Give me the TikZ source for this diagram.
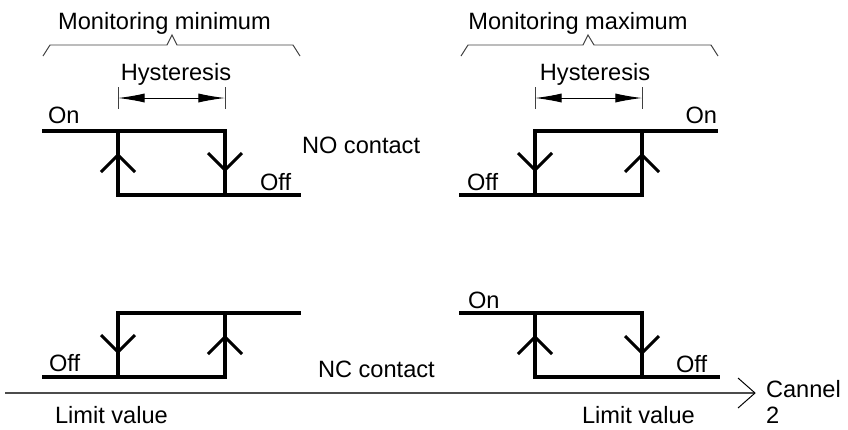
\documentclass[tikz,border=0pt]{standalone}
\usepackage{fontspec}
\setmainfont{Liberation Sans}
\usetikzlibrary{arrows.meta}
\begin{document}
\begin{tikzpicture}[x=0.25cm,y=-0.25cm,
  every node/.style={font=\fontsize{16.8}{18}\selectfont,inner sep=0pt,outer sep=0pt},
  contact/.style={line width=2.2pt,line cap=butt,line join=miter},
  thinline/.style={line width=0.7pt,black!75},
  hyst/.style={line width=0.7pt,{Latex[length=19pt,width=6.5pt]}-{Latex[length=19pt,width=6.5pt]}},
  upmark/.pic={\draw[contact,line join=miter] (-1.7,1.7)--(0,0)--(1.7,1.7);},
  downmark/.pic={\draw[contact,line join=miter] (-1.7,-1.7)--(0,0)--(1.7,-1.7);}]
  \useasboundingbox (0,0) rectangle (84.8,42.9);
  % monitoring minimum, NO contact
  \coordinate (A1) at (4.2,13.1);
  \coordinate (A2) at (11.8,13.1);
  \coordinate (A3) at (22.5,13.1);
  \coordinate (A4) at (11.8,19.5);
  \coordinate (A5) at (22.5,19.5);
  \coordinate (A6) at (30.1,19.5);
  \draw[contact] (A1)--(A3)--(A5);
  \draw[contact] (A2)--(A4)--(A6);
  \pic at (11.8,15.5) {upmark};
  \pic at (22.5,17.0) {downmark};
  % monitoring maximum, NO contact
  \coordinate (B1) at (45.9,19.5);
  \coordinate (B2) at (53.5,19.5);
  \coordinate (B3) at (64.2,19.5);
  \coordinate (B4) at (53.5,13.1);
  \coordinate (B5) at (64.2,13.1);
  \coordinate (B6) at (71.8,13.1);
  \draw[contact] (B1)--(B3)--(B5);
  \draw[contact] (B2)--(B4)--(B6);
  \pic at (53.5,17.0) {downmark};
  \pic at (64.2,15.5) {upmark};
  % monitoring minimum, NC contact
  \coordinate (C1) at (4.2,37.7);
  \coordinate (C2) at (11.8,37.7);
  \coordinate (C3) at (22.5,37.7);
  \coordinate (C4) at (11.8,31.3);
  \coordinate (C5) at (22.5,31.3);
  \coordinate (C6) at (30.1,31.3);
  \draw[contact] (C1)--(C3)--(C5);
  \draw[contact] (C2)--(C4)--(C6);
  \pic at (11.8,35.2) {downmark};
  \pic at (22.5,33.7) {upmark};
  % monitoring maximum, NC contact
  \coordinate (D1) at (45.9,31.3);
  \coordinate (D2) at (53.5,31.3);
  \coordinate (D3) at (64.2,31.3);
  \coordinate (D4) at (53.5,37.7);
  \coordinate (D5) at (64.2,37.7);
  \coordinate (D6) at (72.0,37.7);
  \draw[contact] (D1)--(D3)--(D5);
  \draw[contact] (D2)--(D4)--(D6);
  \pic at (53.5,33.7) {upmark};
  \pic at (64.2,35.3) {downmark};
  % braces and hysteresis
  \draw[thinline] (4.3,5.6)--(5.0,4.5)--(16.7,4.5)--(17.2,3.5)--(17.7,4.5)--(29.3,4.5)--(30.0,5.6);
  \draw[thinline] (46.1,5.6)--(46.8,4.5)--(58.3,4.5)--(58.8,3.5)--(59.4,4.5)--(71.1,4.5)--(71.8,5.6);
  \draw[thinline] (11.8,8.7)--(11.8,10.9);
  \draw[thinline] (22.5,8.7)--(22.5,10.9);
  \draw[hyst] (11.8,9.8)--(22.5,9.8);
  \draw[thinline] (53.5,8.7)--(53.5,10.9);
  \draw[thinline] (64.2,8.7)--(64.2,10.9);
  \draw[hyst] (53.5,9.8)--(64.2,9.8);
  % axis
  \coordinate (O) at (0.5,39.3);
  \coordinate (E) at (75.5,39.3);
  \draw[line width=1pt,black!70] (O)--(E);
  \draw[line width=0.7pt] (73.8,37.8)--(E)--(73.8,40.8);
  % labels
  \node[anchor=base] (tmin) at (16.45,2.9) {Monitoring minimum};
  \node[anchor=base] (tmax) at (57.8,2.9) {Monitoring maximum};
  \node[anchor=base] (h1) at (17.6,8.0) {Hysteresis};
  \node[anchor=base] (h2) at (59.5,8.0) {Hysteresis};
  \node[anchor=base west] (on1) at (4.8,12.3) {On};
  \node[anchor=base east] (on2) at (71.7,12.3) {On};
  \node[anchor=base west] (off1) at (26.0,19.0) {Off};
  \node[anchor=base west] (off2) at (46.7,19.0) {Off};
  \node[anchor=base west] (no) at (30.2,15.3) {NO contact};
  \node[anchor=base west] (off3) at (4.9,37.1) {Off};
  \node[anchor=base west] (nc) at (31.8,37.7) {NC contact};
  \node[anchor=base west] (on3) at (46.8,30.8) {On};
  \node[anchor=base west] (off4) at (67.6,37.2) {Off};
  \node[anchor=base west] (lim1) at (5.5,42.3) {Limit value};
  \node[anchor=base west] (lim2) at (58.2,42.3) {Limit value};
  \node[anchor=base west] (ch) at (76.6,39.7) {Cannel};
  \node[anchor=base west] (ch2) at (76.6,42.3) {2};
\end{tikzpicture}
\end{document}
